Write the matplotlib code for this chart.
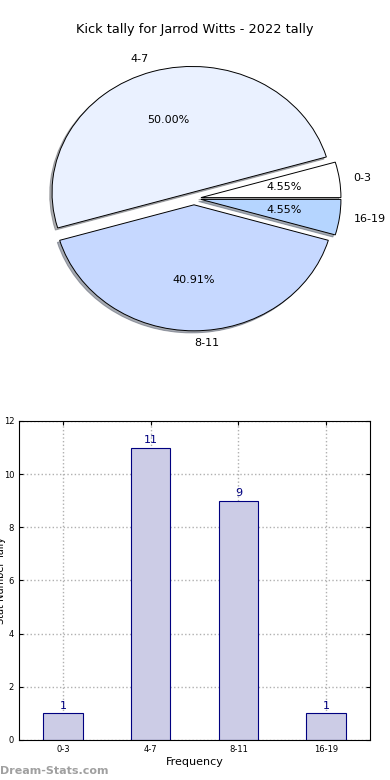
import numpy as np
import matplotlib
matplotlib.use('Agg')
import matplotlib.pyplot as plt

# Data
categories = ['0-3', '4-7', '8-11', '16-19']
counts = [1, 11, 9, 1]
pie_colors = ['#ffffff', '#eaf1ff', '#c6d8ff', '#b5d5ff']
title = 'Kick tally for Jarrod Witts - 2022 tally'

fig = plt.figure(figsize=(3.9, 7.8), dpi=100)

# Pie chart (elliptical, as in the original)
ax1 = fig.add_axes([0.0308, 0.5355, 0.9333, 0.42])
wedges, texts, autotexts = ax1.pie(counts, labels=categories, colors=pie_colors,
                                   explode=[0.05] * len(counts),
                                   shadow={'ox': -0.012, 'oy': -0.012, 'shade': 0.6},
                                   autopct='%1.2f%%', startangle=0,
                                   wedgeprops=dict(edgecolor='black', linewidth=0.7),
                                   textprops=dict(fontsize=8))
ax1.set_aspect('auto')
ax1.set_xlim(-1.3, 1.3)
ax1.set_ylim(-1.3, 1.3)
fig.text(0.5, 1 - 30 / 780, title, ha='center', va='center', fontsize=9.3)

# Bar chart
ax2 = fig.add_axes([0.0487, 0.0513, 0.9, 0.409])
x = np.arange(len(categories))
bars = ax2.bar(x, counts, width=0.45, color='#cccce6',
               edgecolor='navy', linewidth=0.8, zorder=2)
for xi, c in zip(x, counts):
    ax2.text(xi, c + 0.1, str(c), ha='center', va='bottom', color='navy', fontsize=8)

ax2.set_xlim(-0.5, 3.5)
ax2.set_ylim(0, 12)
ax2.set_yticks(np.arange(0, 13, 2))
ax2.set_xticks(x)
ax2.set_xticklabels(categories)
ax2.tick_params(direction='in', top=True, right=True, labelsize=6, length=3)
ax2.grid(True, linestyle=':', color='#b0b0b0', linewidth=1, zorder=0)
ax2.set_axisbelow(True)
ax2.set_xlabel('Frequency', fontsize=8, labelpad=2)
ax2.set_ylabel('Stat Number Tally', fontsize=7)
ax2.yaxis.set_label_coords(-0.037, 0.5)

fig.text(0.0, 1 - 771 / 780, 'Dream-Stats.com', ha='left', va='center',
         fontsize=8, color='#a0a0a0', fontweight='bold')

fig.savefig('out.png', dpi=100)
